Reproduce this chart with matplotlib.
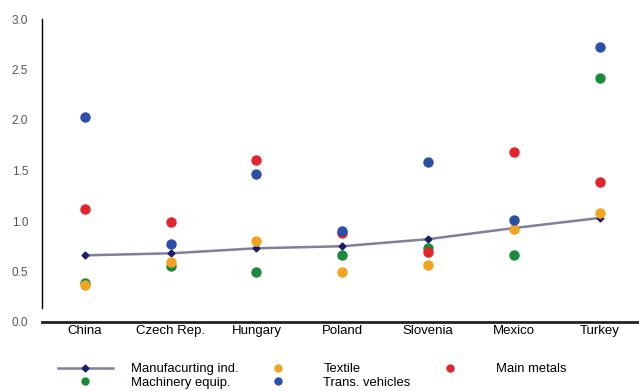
import matplotlib.pyplot as plt
from matplotlib.lines import Line2D

plt.rcParams['font.family'] = ['Liberation Sans', 'DejaVu Sans']

# 국가별 값
countries = ['China', 'Czech Rep.', 'Hungary', 'Poland', 'Slovenia', 'Mexico', 'Turkey']
manufacturing = [0.66, 0.68, 0.73, 0.75, 0.82, 0.93, 1.03]
machinery = [0.39, 0.55, 0.50, 0.66, 0.73, 0.66, 2.42]
textile = [0.37, 0.59, 0.80, 0.50, 0.56, 0.92, 1.08]
trans_vehicles = [2.03, 0.77, 1.47, 0.90, 1.58, 1.01, 2.72]
main_metals = [1.12, 0.99, 1.60, 0.88, 0.69, 1.68, 1.39]
yticks = [0.0, 0.5, 1.0, 1.5, 2.0, 2.5, 3.0]

c_blue = '#2c4fa8'
c_red = '#e5232b'
c_green = '#1b8a3c'
c_orange = '#f2a31f'
c_navy = '#1c1c6a'
c_line = '#7f7f9e'

fig = plt.figure(figsize=(6.39, 3.91), dpi=100)
W, H = 639, 391
ax = fig.add_axes([42 / W, 1 - 322 / H, 1 - 42 / W, (322 - 19) / H])

x = list(range(len(countries)))
ax.plot(x, manufacturing, color=c_line, lw=1.8, marker='D', ms=3.5,
        mfc=c_navy, mec=c_navy, zorder=2)
ms = 7.5
ax.plot(x, machinery, 'o', color=c_green, ms=ms, mec='none', zorder=3)
ax.plot(x, textile, 'o', color=c_orange, ms=ms, mec='none', zorder=3)
ax.plot(x, main_metals, 'o', color=c_red, ms=ms, mec='none', zorder=3)
ax.plot(x, trans_vehicles, 'o', color=c_blue, ms=ms, mec='none', zorder=4)

ax.set_xlim(-0.5, 6.46)
ax.set_ylim(0, 3.0)
ax.set_xticks(x)
ax.set_xticklabels(countries, fontsize=9.5)
ax.set_yticks(yticks)
ax.set_yticklabels([f'{v:.1f}' for v in yticks], fontsize=8.5, color='#555555')
ax.tick_params(axis='both', length=0)
ax.tick_params(axis='x', pad=2)
ax.tick_params(axis='y', pad=10)

for s in ['top', 'right']:
    ax.spines[s].set_visible(False)
ax.spines['left'].set_bounds(0.14, 3.0)
ax.spines['left'].set_linewidth(1.0)
ax.spines['bottom'].set_linewidth(2.0)
ax.spines['bottom'].set_color('#222222')

handles = [
    Line2D([], [], color=c_line, lw=1.8, marker='D', ms=3.5, mfc=c_navy, mec=c_navy),
    Line2D([], [], ls='none', marker='o', color=c_green, ms=6, mec='none'),
    Line2D([], [], ls='none', marker='o', color=c_orange, ms=6, mec='none'),
    Line2D([], [], ls='none', marker='o', color=c_blue, ms=6, mec='none'),
    Line2D([], [], ls='none', marker='o', color=c_red, ms=6, mec='none'),
]
labels = ['Manufacurting ind.', 'Machinery equip.', 'Textile', 'Trans. vehicles', 'Main metals']
fig.legend(handles, labels, ncol=3, frameon=False, fontsize=9.4,
           loc='upper left', bbox_to_anchor=(58 / W, 1 - 363 / H),
           handlelength=4.2, handletextpad=1.4, columnspacing=0.9,
           labelspacing=0.12, borderpad=0, borderaxespad=0)

fig.savefig('out.png', dpi=100)
